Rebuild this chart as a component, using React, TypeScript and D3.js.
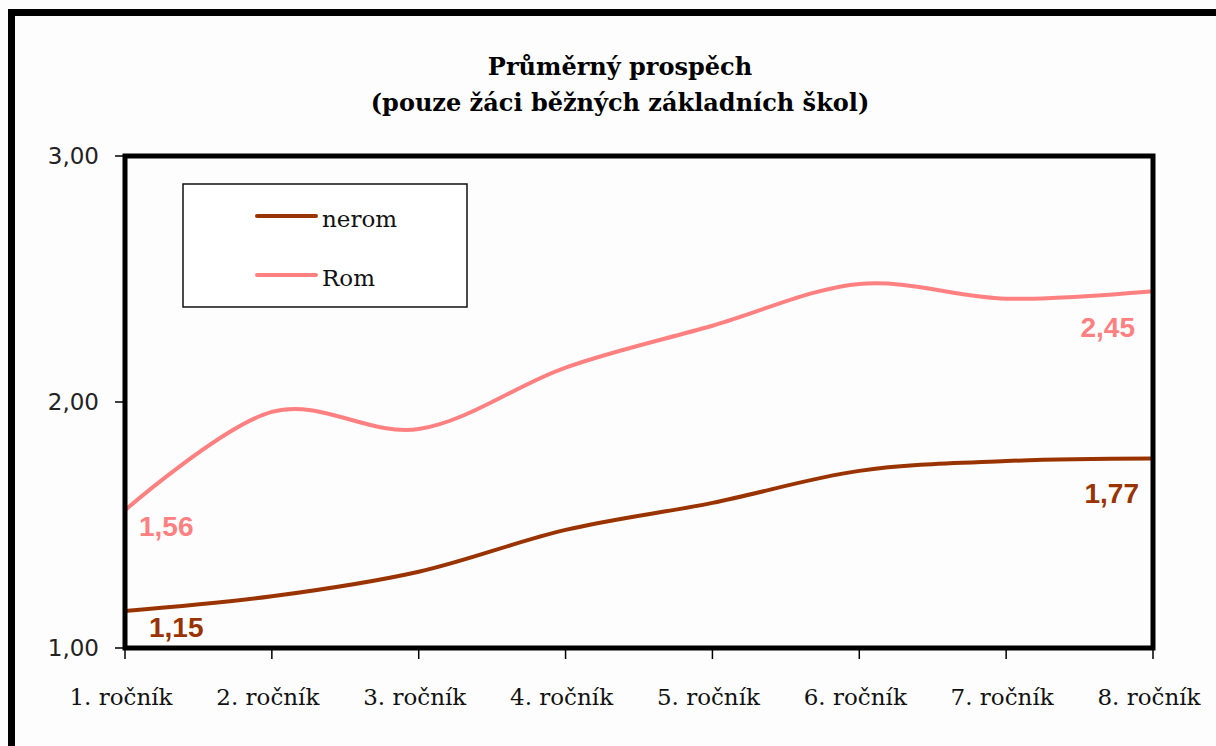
import React from "react";
import * as d3 from "d3";

const categories = ["1. ročník", "2. ročník", "3. ročník", "4. ročník", "5. ročník", "6. ročník", "7. ročník", "8. ročník"];
const neromValues = [1.15, 1.21, 1.31, 1.48, 1.59, 1.72, 1.76, 1.77];
const romValues = [1.56, 1.96, 1.89, 2.14, 2.31, 2.48, 2.42, 2.45];
const yTicks = [1, 2, 3];
const titleLines = ["Průměrný prospěch", "(pouze žáci běžných základních škol)"];
const seriesNames = ["nerom", "Rom"];

const W = 1216;
const H = 746;
const plot = { left: 125, top: 156, right: 1153, bottom: 648 };
const NEROM = "#993300";
const ROM = "#FF8080";

export default function App() {
  const x = d3.scalePoint<string>().domain(categories).range([plot.left, plot.right]);
  const y = d3.scaleLinear().domain([1, 3]).range([plot.bottom, plot.top]);
  const line = d3
    .line<number>()
    .x((_, i) => x(categories[i]) as number)
    .y((d) => y(d))
    .curve(d3.curveCatmullRom.alpha(0));
  const fmt = (v: number) => v.toFixed(2).replace(".", ",");
  const last = categories.length - 1;
  const xFirst = x(categories[0]) as number;
  const xLast = x(categories[last]) as number;

  return (
    <svg width={W} height={H} style={{ position: "absolute", left: 0, top: 0, background: "#fff" }}>
      <rect x={0} y={0} width={W} height={H} fill="#fdfdfd" />
      {/* outer border (top & left) */}
      <rect x={8} y={9} width={7} height={H - 9} fill="#000" />
      <rect x={8} y={9} width={W - 8} height={7} fill="#000" />

      {/* title */}
      <g fontFamily="'DejaVu Serif', serif" fontWeight="bold" fontSize={24} textAnchor="middle" fill="#000">
        <text x={620} y={75}>{titleLines[0]}</text>
        <text x={620} y={111}>{titleLines[1]}</text>
      </g>

      {/* series lines */}
      <path d={line(romValues) || ""} fill="none" stroke={ROM} strokeWidth={4} />
      <path d={line(neromValues) || ""} fill="none" stroke={NEROM} strokeWidth={4} />

      {/* plot frame */}
      <rect
        x={plot.left}
        y={plot.top}
        width={plot.right - plot.left}
        height={plot.bottom - plot.top}
        fill="none"
        stroke="#000"
        strokeWidth={5}
      />

      {/* y axis ticks & labels */}
      <g fontFamily="'DejaVu Sans', sans-serif" fontSize={23} textAnchor="end" fill="#222">
        {yTicks.map((t) => (
          <g key={t}>
            <line x1={plot.left - 10} x2={plot.left} y1={y(t)} y2={y(t)} stroke="#000" strokeWidth={1.5} />
            <text x={99} y={y(t) + 8}>{fmt(t)}</text>
          </g>
        ))}
      </g>

      {/* x axis ticks & labels */}
      <g fontFamily="'DejaVu Serif', serif" fontSize={23} textAnchor="middle" fill="#111">
        {categories.map((c) => (
          <g key={c}>
            <line x1={x(c)} x2={x(c)} y1={plot.bottom} y2={plot.bottom + 11} stroke="#000" strokeWidth={1.5} />
            <text x={(x(c) as number) - 4} y={705}>{c}</text>
          </g>
        ))}
      </g>

      {/* data labels */}
      <g fontFamily="'Liberation Sans', Arial, sans-serif" fontWeight="bold" fontSize={28}>
        <text x={xFirst + 14} y={y(romValues[0]) + 26} fill={ROM}>{fmt(romValues[0])}</text>
        <text x={xFirst + 24} y={y(neromValues[0]) + 26} fill={NEROM}>{fmt(neromValues[0])}</text>
        <text x={xLast - 18} y={y(romValues[last]) + 46} fill={ROM} textAnchor="end">{fmt(romValues[last])}</text>
        <text x={xLast - 14} y={y(neromValues[last]) + 44} fill={NEROM} textAnchor="end">{fmt(neromValues[last])}</text>
      </g>

      {/* legend */}
      <rect x={183} y={184} width={284} height={123} fill="#fff" stroke="#111" strokeWidth={1.5} />
      <line x1={257} x2={316} y1={216} y2={216} stroke={NEROM} strokeWidth={4} strokeLinecap="round" />
      <line x1={257} x2={316} y1={275} y2={275} stroke={ROM} strokeWidth={4} strokeLinecap="round" />
      <g fontFamily="'DejaVu Serif', serif" fontSize={23} fill="#111">
        <text x={322} y={227}>{seriesNames[0]}</text>
        <text x={322} y={286}>{seriesNames[1]}</text>
      </g>
    </svg>
  );
}
